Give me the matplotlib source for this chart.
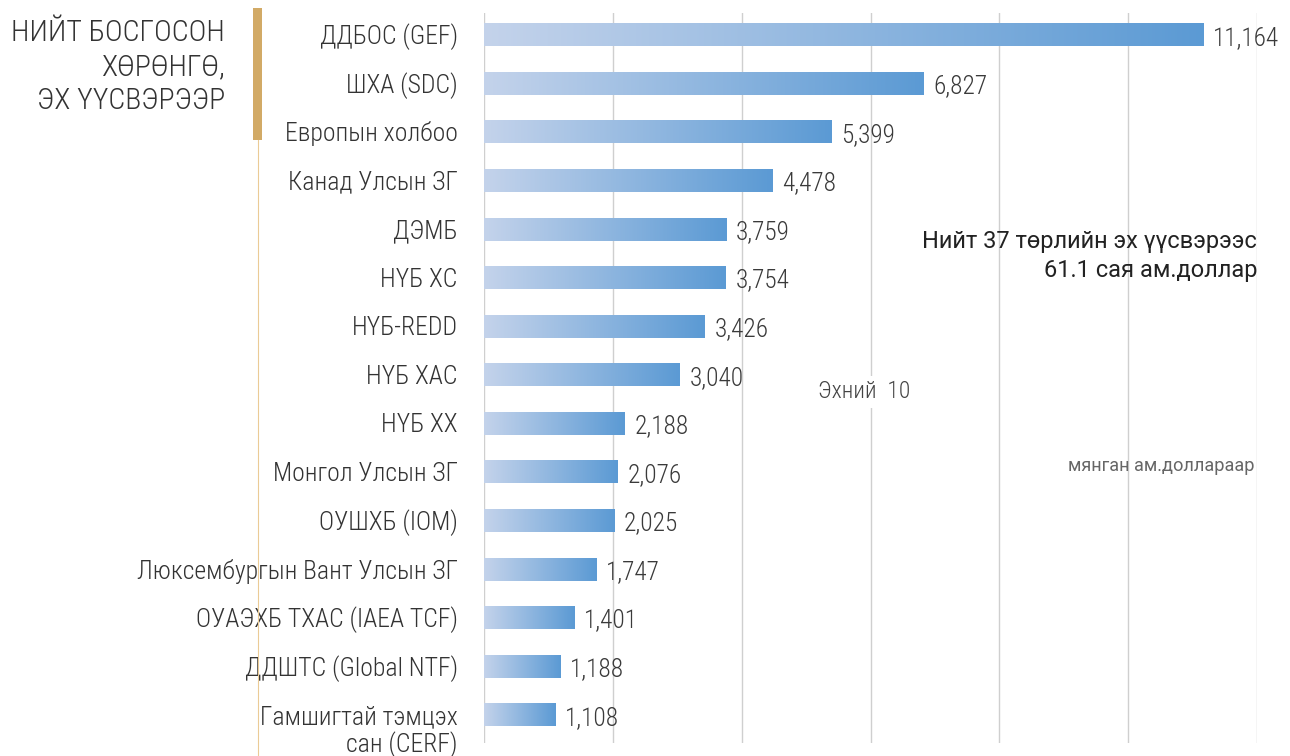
import numpy as np
import matplotlib.pyplot as plt
from matplotlib.colors import LinearSegmentedColormap
from matplotlib import font_manager

# pick a narrow face if one is there, else plain Roboto
names = set(f.name for f in font_manager.fontManager.ttflist)
if 'Roboto Condensed' in names:
    FONT = ['Roboto Condensed', 'DejaVu Sans']
elif 'Liberation Sans Narrow' in names:
    FONT = ['Liberation Sans Narrow', 'DejaVu Sans']
else:
    FONT = ['Roboto', 'DejaVu Sans']
plt.rcParams['font.family'] = FONT

sources = ['ДДБОС (GEF)', 'ШХА (SDC)', 'Европын холбоо', 'Канад Улсын ЗГ', 'ДЭМБ',
           'НҮБ ХС', 'НҮБ-REDD', 'НҮБ ХАС', 'НҮБ ХХ', 'Монгол Улсын ЗГ',
           'ОУШХБ (IOM)', 'Люксембургын Вант Улсын ЗГ', 'ОУАЭХБ ТХАС (IAEA TCF)',
           'ДДШТС (Global NTF)', 'Гамшигтай тэмцэх\nсан (CERF)']
amounts = [11164, 6827, 5399, 4478, 3759, 3754, 3426, 3040, 2188, 2076,
           2025, 1747, 1401, 1188, 1108]
grid_ticks = [0, 2000, 4000, 6000, 8000, 10000, 12000]

title = 'НИЙТ БОСГОСОН\nХӨРӨНГӨ,\nЭХ ҮҮСВЭРЭЭР'
total_note = 'Нийт 37 төрлийн эх үүсвэрээс\n61.1 сая ам.доллар'
top_note = 'Эхний  10'
unit_note = 'мянган ам.доллараар'

W, H = 1290, 756
fig = plt.figure(figsize=(W / 100, H / 100), dpi=100)
ax = fig.add_axes([484 / W, 1 - 743 / H, (1257 - 484) / W, (743 - 13) / H])

cmap = LinearSegmentedColormap.from_list('bar', ['#C4D3EB', '#5B9AD4'])
grad = np.linspace(0, 1, 256).reshape(1, -1)
bh = 0.47
for i, v in enumerate(amounts):
    ax.imshow(grad, cmap=cmap, aspect='auto', extent=(0, v, i + bh / 2, i - bh / 2),
              interpolation='bicubic', zorder=2)
    ax.text(v + 150, i + 0.06, f'{v:,}', va='center', ha='left', fontsize=18.3,
            color='#3a3a3a', fontweight='light', zorder=3, clip_on=False)

for t in grid_ticks:
    ax.axvline(t, color='#cfcfcf', lw=1, zorder=1)

ax.set_xlim(0, 12000)
ax.set_ylim(len(amounts) - 1 + 0.58, -0.45)
ax.set_xticks([])
ax.set_yticks([])
for s in ax.spines.values():
    s.set_visible(False)

for i, name in enumerate(sources):
    if '\n' in name:
        ax.text(-0.034, i - 0.2, name, transform=ax.get_yaxis_transform(), ha='right',
                va='top', multialignment='right', fontsize=18.5, color='#333333',
                fontweight='light', linespacing=1.1, clip_on=False)
    else:
        ax.text(-0.034, i + 0.04, name, transform=ax.get_yaxis_transform(), ha='right',
                va='center', fontsize=18.5, color='#333333', fontweight='light',
                clip_on=False)

# title block with gold marker
fig.text(225 / W, 1 - 19 / H, title, ha='right', va='top', multialignment='right',
         fontsize=21.6, color='#333333', fontweight='light', linespacing=1.28)
fig.add_artist(plt.Rectangle((253 / W, 1 - 140 / H), 9 / W, 132 / H,
                             transform=fig.transFigure, color='#D2AA66', lw=0))
fig.add_artist(plt.Line2D([258 / W, 258 / W], [0, 1 - 140 / H],
                          transform=fig.transFigure, color='#EBCB96', lw=0.8))

ax.text(1257 / W, 1 - 256 / H, total_note, transform=fig.transFigure, ha='right',
        va='center', multialignment='right', fontsize=17, color='#222222',
        linespacing=1.3, family=['Roboto', 'DejaVu Sans'])
ax.text(5185, 7.35, top_note, ha='left', va='center', fontsize=17, color='#444444',
        fontweight='light',
        bbox=dict(facecolor='white', edgecolor='none', pad=3), zorder=4)
ax.text(1255 / W, 1 - 466 / H, unit_note, transform=fig.transFigure, ha='right',
        va='center', fontsize=13.1, color='#666666', family=['Roboto', 'DejaVu Sans'])

fig.savefig('out.png', dpi=100, facecolor='white')
